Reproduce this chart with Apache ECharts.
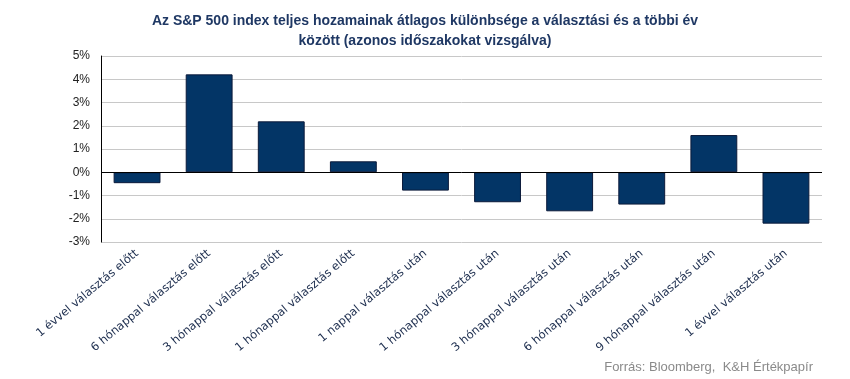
<!DOCTYPE html>
<html><head><meta charset="utf-8">
<script src="https://cdn.jsdelivr.net/npm/echarts@6/dist/echarts.min.js"></script>
<style>html,body{margin:0;padding:0;background:#fff}#c{width:850px;height:379px}</style>
</head><body><div id="c"></div>
<script>
const categories = ["1 évvel választás előtt","6 hónappal választás előtt","3 hónappal választás előtt","1 hónappal választás előtt","1 nappal választás után","1 hónappal választás után","3 hónappal választás után","6 hónappal választás után","9 hónappal választás után","1 évvel választás után"];
const values = [-0.47, 4.21, 2.19, 0.47, -0.79, -1.29, -1.68, -1.39, 1.6, -2.21];
const yTicks = [-3, -2, -1, 0, 1, 2, 3, 4, 5];
const chart = echarts.init(document.getElementById('c'));
chart.setOption({
  animation: false,
  title: {
    text: "Az S&P 500 index teljes hozamainak átlagos különbsége a választási és a többi év\nközött (azonos időszakokat vizsgálva)",
    left: 'center', top: 6,
    textStyle: {fontFamily: 'Liberation Sans', fontWeight: 'bold', fontSize: 14, color: '#1f3864', lineHeight: 20}
  },
  graphic: [{type: 'text', right: 37, bottom: 5, style: {text: 'Forrás: Bloomberg,  K&H Értékpapír', fontFamily: 'Liberation Sans', fontSize: 13, fill: '#8a8a8a'}}],
  grid: {left: 101, right: 28, top: 56, bottom: 137},
  xAxis: {
    type: 'category', data: categories,
    axisLine: {show: false, onZero: false}, axisTick: {show: false},
    axisLabel: {rotate: 40, interval: 0, margin: 10, fontFamily: 'DejaVu Sans', fontSize: 11.5, color: '#1a2b4c'}
  },
  yAxis: {
    type: 'value', min: -3, max: 5, interval: 1,
    axisLine: {show: true, lineStyle: {color: '#000', width: 1}},
    axisTick: {show: false},
    splitLine: {lineStyle: {color: '#c8c8c8', width: 1}},
    axisLabel: {formatter: v => yTicks.includes(v) ? v + '%' : '', margin: 11, fontFamily: 'Liberation Sans', fontSize: 12, color: '#222'}
  },
  series: [{
    type: 'bar', data: values, barCategoryGap: '35%',
    itemStyle: {color: '#033566', borderColor: '#0b1a3a', borderWidth: 1},
    markLine: {silent: true, symbol: 'none', label: {show: false}, lineStyle: {color: '#000', type: 'solid', width: 1}, data: [{yAxis: 0}]}
  }]
});
</script></body></html>
